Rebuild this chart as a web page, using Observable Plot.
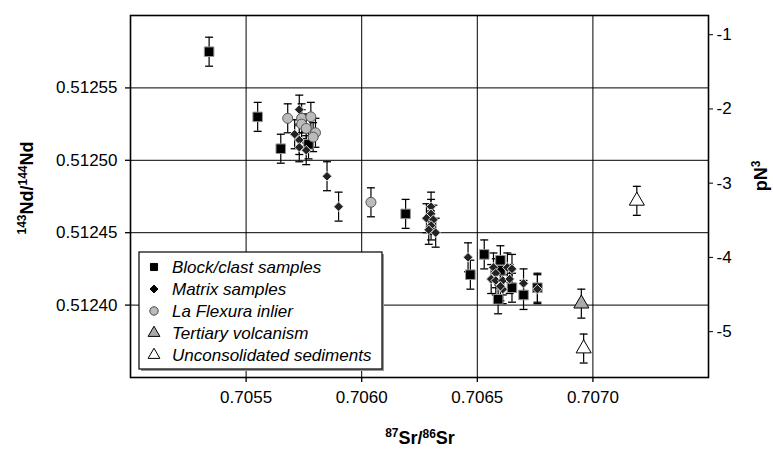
<!DOCTYPE html>
<html><head><meta charset="utf-8">
<script src="https://cdn.jsdelivr.net/npm/d3@7"></script>
<script src="https://cdn.jsdelivr.net/npm/@observablehq/plot@0.6"></script>
<style>
body{margin:0;background:#fff;}
#chart{width:773px;height:452px;}
svg text{font-family:"Liberation Sans",Arial,Helvetica,sans-serif;}
</style></head><body><div id="chart"></div>
<script>
// ---- data (87Sr/86Sr, 143Nd/144Nd) ----
const blockSamples = [
  [0.70534, 0.512575], [0.70555, 0.512530], [0.70565, 0.512508], [0.70577, 0.512511],
  [0.70619, 0.512463], [0.70647, 0.512421], [0.70653, 0.512435], [0.70660, 0.512431],
  [0.70660, 0.512424], [0.70665, 0.512412], [0.70659, 0.512404], [0.70670, 0.512407],
  [0.70676, 0.512412]
];
const matrixSamples = [
  [0.70573, 0.512535], [0.70571, 0.512518], [0.70573, 0.512514], [0.70573, 0.512509],
  [0.70576, 0.512507], [0.70585, 0.512489], [0.70590, 0.512468],
  [0.70630, 0.512468], [0.70630, 0.512463], [0.70628, 0.512460], [0.70631, 0.512459],
  [0.70630, 0.512455], [0.70629, 0.512452], [0.70632, 0.512450],
  [0.70646, 0.512433], [0.70657, 0.512426], [0.70658, 0.512422], [0.70656, 0.512418],
  [0.70658, 0.512417], [0.70661, 0.512417], [0.70663, 0.512426], [0.70665, 0.512425],
  [0.70664, 0.512418], [0.70661, 0.512411], [0.70660, 0.512413], [0.70670, 0.512415],
  [0.70676, 0.512411]
];
const laFlexuraInlier = [
  [0.70568, 0.512529], [0.70574, 0.512529], [0.70578, 0.512530], [0.70574, 0.512525],
  [0.70576, 0.512522], [0.70580, 0.512519], [0.70579, 0.512516], [0.70604, 0.512471]
];
const tertiaryVolcanism = [[0.70695, 0.512401]];
const unconsolidatedSediments = [[0.70719, 0.512472], [0.70696, 0.512370]];
const ndError = 0.00001;

const xTicks = [0.7055, 0.7060, 0.7065, 0.7070];
const yTicks = [0.51240, 0.51245, 0.51250, 0.51255];
const epsTicks = [-1, -2, -3, -4, -5];
const chur = 0.512638;
const legendLabels = ["Block/clast samples", "Matrix samples", "La Flexura inlier", "Tertiary volcanism", "Unconsolidated sediments"];

const rows = (arr, s) => arr.map(([x, y]) => ({x, y, s}));
const block = rows(blockSamples, 0), matrix = rows(matrixSamples, 1), flex = rows(laFlexuraInlier, 2),
      tert = rows(tertiaryVolcanism, 3), unc = rows(unconsolidatedSediments, 4);

const cap = {draw(ctx, size) { const w = Math.sqrt(size) / 2; ctx.moveTo(-w, 0); ctx.lineTo(w, 0); }};
const errMarks = (data) => [
  Plot.ruleX(data, {x: "x", y1: d => d.y - ndError, y2: d => d.y + ndError, stroke: "#000", strokeWidth: 1.2}),
  Plot.dot(data, {x: "x", y: d => d.y + ndError, symbol: cap, r: 4.5, stroke: "#000", strokeWidth: 1.3, fill: "none"}),
  Plot.dot(data, {x: "x", y: d => d.y - ndError, symbol: cap, r: 4.5, stroke: "#000", strokeWidth: 1.3, fill: "none"})
];

const plot = Plot.plot({
  width: 773, height: 452,
  marginLeft: 130, marginRight: 65, marginTop: 15, marginBottom: 75,
  style: {fontFamily: "Liberation Sans, Arial, sans-serif", fontSize: "17px", background: "#fff"},
  x: {domain: [0.7050, 0.7075]},
  y: {domain: [0.51235, 0.51260]},
  marks: [
    Plot.gridX(xTicks, {stroke: "#000", strokeOpacity: 1, strokeWidth: 1}),
    Plot.gridY(yTicks, {stroke: "#000", strokeOpacity: 1, strokeWidth: 1}),
    Plot.axisX(xTicks, {tickFormat: d3.format(".4f"), tickSize: 5, tickPadding: 8, label: null, fontSize: 17, strokeWidth: 1.3}),
    Plot.axisY(yTicks, {anchor: "left", tickFormat: d3.format(".5f"), tickSize: 5, tickPadding: 8, label: null, fontSize: 17, strokeWidth: 1.3}),
    Plot.axisY(epsTicks.map(e => chur * (1 + e / 1e4)), {anchor: "right", tickFormat: d => String(Math.round((d / chur - 1) * 1e4)), tickSize: 4, tickPadding: 4, label: null, fontSize: 17}),
    ...errMarks([...block, ...matrix, ...flex, ...tert, ...unc]),
    Plot.dot(block, {x: "x", y: "y", symbol: "square", r: 5.4, fill: "#000", stroke: "#999", strokeWidth: 1}),
    Plot.dot(matrix, {x: "x", y: "y", symbol: "diamond2", r: 4.3, fill: "#222", stroke: "#ddd", strokeWidth: 1}),
    Plot.dot(flex, {x: "x", y: "y", symbol: "circle", r: 5, fill: "#bbb", stroke: "#555", strokeWidth: 1}),
    Plot.dot(tert, {x: "x", y: "y", symbol: "triangle", r: 5.6, fill: "#aaa", stroke: "#000", strokeWidth: 1}),
    Plot.dot(unc, {x: "x", y: "y", symbol: "triangle", r: 5.6, fill: "#fff", stroke: "#000", strokeWidth: 1}),
    Plot.frame({stroke: "#000", strokeWidth: 1.6})
  ]
});
document.getElementById("chart").appendChild(plot);

// ---- legend, axis titles ----
const svg = d3.select(plot);
const lg = svg.append("g").attr("text-anchor", "start");
lg.append("rect").attr("x", 141).attr("y", 254).attr("width", 243).attr("height", 117).attr("fill", "#999");
lg.append("rect").attr("x", 139).attr("y", 252).attr("width", 243).attr("height", 117).attr("fill", "#fff").attr("stroke", "#000").attr("stroke-width", 1.2);
const lsym = [
  {t: d3.symbolSquare, s: 50, f: "#000", k: "#000"},
  {t: d3.symbolDiamond2, s: 40, f: "#000", k: "#000"},
  {t: d3.symbolCircle, s: 55, f: "#bbb", k: "#444"},
  {t: d3.symbolTriangle, s: 60, f: "#aaa", k: "#000"},
  {t: d3.symbolTriangle, s: 60, f: "#fff", k: "#000"}
];
legendLabels.forEach((lab, i) => {
  const cy = 267 + i * 22;
  lg.append("path").attr("d", d3.symbol(lsym[i].t, lsym[i].s)()).attr("transform", `translate(154,${cy})`)
    .attr("fill", lsym[i].f).attr("stroke", lsym[i].k).attr("stroke-width", 1);
  lg.append("text").attr("x", 172).attr("y", cy).attr("dy", "0.36em").attr("font-size", 17)
    .attr("text-anchor", "start").attr("font-style", "italic").attr("fill", "#000").text(lab);
});

function supText(sel, parts) {
  parts.forEach(([t, sup]) => {
    const ts = sel.append("tspan").text(t);
    if (sup) ts.attr("font-size", 12).attr("dy", "-0.55em");
    else ts.attr("font-size", 18).attr("dy", sel.attr("_prev") === "sup" ? "0.38em" : 0);
    sel.attr("_prev", sup ? "sup" : "base");
  });
}
const xt = svg.append("text").attr("x", 420).attr("y", 444).attr("text-anchor", "middle").attr("font-weight", "bold").attr("fill", "#000");
supText(xt, [["87", true], ["Sr/", false], ["86", true], ["Sr", false]]);
const yt = svg.append("text").attr("transform", "translate(33,188) rotate(-90)").attr("text-anchor", "middle").attr("font-weight", "bold").attr("fill", "#000");
supText(yt, [["143", true], ["Nd/", false], ["144", true], ["Nd", false]]);
const rt = svg.append("text").attr("transform", "translate(767,176) rotate(-90)").attr("text-anchor", "middle").attr("font-weight", "bold").attr("fill", "#000");
supText(rt, [["pN", false], ["3", true]]);
</script>
</body></html>
